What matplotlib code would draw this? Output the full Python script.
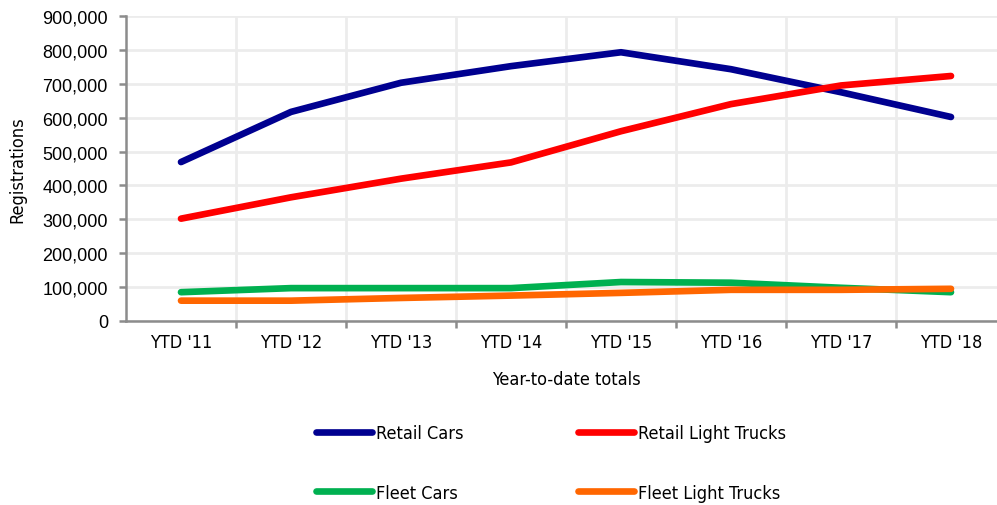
import matplotlib
matplotlib.use('Agg')
import matplotlib.pyplot as plt
from matplotlib.ticker import FuncFormatter, FixedLocator
import numpy as np

years = ["YTD '11", "YTD '12", "YTD '13", "YTD '14",
         "YTD '15", "YTD '16", "YTD '17", "YTD '18"]
retail_cars = [469000, 617000, 703000, 752000, 793000, 743000, 675000, 602000]
retail_trucks = [302000, 365000, 420000, 468000, 560000, 640000, 695000, 723000]
fleet_cars = [85000, 97000, 97000, 97000, 115000, 113000, 98000, 85000]
fleet_trucks = [60000, 60000, 68000, 75000, 83000, 92000, 92000, 95000]

series = [
    ('Retail Cars', retail_cars, '#000090'),
    ('Retail Light Trucks', retail_trucks, '#ff0000'),
    ('Fleet Cars', fleet_cars, '#00b050'),
    ('Fleet Light Trucks', fleet_trucks, '#ff6600'),
]

plt.rcParams['font.family'] = ['DejaVu Sans']
plt.rcParams['font.stretch'] = 'condensed'

fig = plt.figure(figsize=(9.97, 5.06), dpi=100)
ax = fig.add_axes([126 / 997, 1 - 322 / 506, 880 / 997, 305 / 506])

x = np.arange(len(years))
handles = []
for name, vals, col in series:
    h, = ax.plot(x, vals, color=col, lw=4.8, solid_capstyle='round',
                 solid_joinstyle='round', label=name, zorder=3)
    handles.append(h)

ax.set_xlim(-0.5, len(years) - 0.5)
ax.set_ylim(0, 900000)
ax.set_yticks(np.arange(0, 900001, 100000))
ax.yaxis.set_major_formatter(FuncFormatter(lambda v, p: '{:,.0f}'.format(v)))

# ticks and vertical grid sit between categories, labels at the centres
ax.xaxis.set_major_locator(FixedLocator(x[:-1] + 0.5))
ax.xaxis.set_minor_locator(FixedLocator(x))
ax.set_xticklabels([], minor=False)
ax.set_xticklabels(years, minor=True)
ax.tick_params(axis='x', which='minor', length=0, pad=9, labelsize=13)
ax.tick_params(axis='x', which='major', length=5, width=1.8, color='#8c8c8c')
ax.tick_params(axis='y', length=5, width=1.8, color='#8c8c8c', pad=8)
for lab in ax.get_yticklabels():
    lab.set_family(['Liberation Sans', 'DejaVu Sans'])
    lab.set_stretch('normal')
    lab.set_fontsize(13)

ax.grid(True, which='major', color='#ececec', lw=2, zorder=0)
ax.set_axisbelow(True)
for s in ['top', 'right']:
    ax.spines[s].set_visible(False)
for s in ['left', 'bottom']:
    ax.spines[s].set_color('#8c8c8c')
    ax.spines[s].set_linewidth(1.8)

ax.set_ylabel('Registrations', fontsize=13)
ax.set_xlabel('Year-to-date totals', fontsize=13, labelpad=13)
ax.yaxis.set_label_coords(-100 / 880, 0.5)

leg_kw = dict(frameon=False, fontsize=13, handlelength=3.1, handletextpad=0.2,
              labelspacing=2.3, borderpad=0, borderaxespad=0, loc='center left')
fig.legend([handles[0], handles[2]], ['Retail Cars', 'Fleet Cars'],
           bbox_to_anchor=(316 / 997, 1 - 464 / 506), **leg_kw)
fig.legend([handles[1], handles[3]], ['Retail Light Trucks', 'Fleet Light Trucks'],
           bbox_to_anchor=(578 / 997, 1 - 464 / 506), **leg_kw)

fig.savefig('out.png', dpi=100)
